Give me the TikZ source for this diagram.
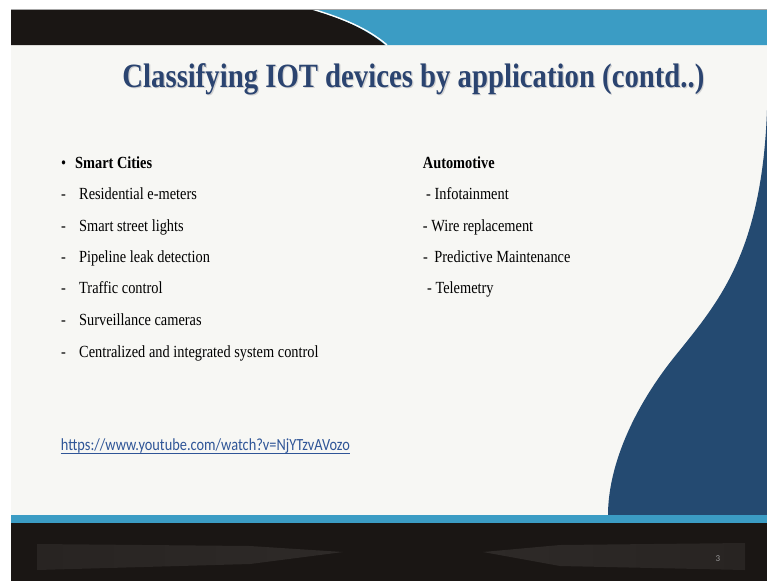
\documentclass[tikz,border=0pt]{standalone}
\usepackage{fontspec}
\setmainfont{Liberation Serif}
\newfontfamily\urlfont{Carlito}
\definecolor{barblack}{HTML}{1A1614}
\definecolor{barblue}{HTML}{3B9CC4}
\definecolor{wave}{HTML}{244A71}
\definecolor{slidebg}{HTML}{F7F7F4}
\definecolor{titleblue}{HTML}{2B4470}
\definecolor{linkblue}{HTML}{2F5597}
\definecolor{stripe}{HTML}{2E2A28}
\tikzset{
  body/.style={anchor=base west, inner sep=0pt, font=\fontsize{17}{20}\selectfont, text=black},
  ttl/.style={anchor=base, inner sep=0pt, font=\fontsize{34}{40}\selectfont\bfseries},
}
\newcommand{\sq}[1]{\scalebox{0.845}[1]{#1}}
\begin{document}
\begin{tikzpicture}[x=1pt,y=-1pt]
\useasboundingbox (0,0) rectangle (767,581);
\fill[white] (0,0) rectangle (767,581);
% slide background
\fill[slidebg] (11,45) rectangle (767,515);
% top bar
\fill[barblue] (310,9) -- (767,9) -- (767,45) -- (385,45) -- cycle;
\fill[barblack] (11,9) -- (310,9) .. controls (340,18) and (365,28) .. (385,45) -- (11,45) -- cycle;
\draw[white, line width=1.4pt] (312,9) .. controls (342,18) and (367,28) .. (387,45);
\draw[gray!70, line width=0.8pt] (11,9.3) -- (767,9.3);
% right wave
\fill[wave] (767,100) -- (767,110) .. controls (762,250) and (720,300) .. (680,350)
  .. controls (630,410) and (608,470) .. (608,515) -- (767,515) -- cycle;
% bottom bars
\fill[barblue] (11,515) rectangle (767,523);
\fill[barblack] (11,523) rectangle (767,581);
\shade[left color=stripe!70!barblack, right color=stripe] (37,544) -- (250,546) -- (343,552) -- (250,564) -- (37,570) -- cycle;
\shade[left color=stripe, right color=stripe!70!barblack] (483,552) -- (560,545) -- (745,543) -- (745,570) -- (560,566) -- cycle;
\node[anchor=base, inner sep=0pt, text=gray!80, font=\urlfont\fontsize{9}{10}\selectfont] (pnum) at (718,561) {3};
% title
\node[ttl, text=gray!35] (titleshadow) at (414.6,88.2) {\sq{Classifying IOT devices by application (contd..)}};
\node[ttl, text=titleblue] (title) at (413.4,87) {\sq{Classifying IOT devices by application (contd..)}};
% left column
\node[body] (b0) at (61,168) {\sq{\textbullet}};
\node[body] (sc) at (75,168) {\sq{\bfseries Smart Cities}};
\node[body] (d1) at (61,199.5) {\sq{-}};
\node[body] (l1) at (79,199.5) {\sq{Residential e-meters}};
\node[body] (d2) at (61,231) {\sq{-}};
\node[body] (l2) at (79,231) {\sq{Smart street lights}};
\node[body] (d3) at (61,262) {\sq{-}};
\node[body] (l3) at (79,262) {\sq{Pipeline leak detection}};
\node[body] (d4) at (61,293.5) {\sq{-}};
\node[body] (l4) at (79,293.5) {\sq{Traffic control}};
\node[body] (d5) at (61,325) {\sq{-}};
\node[body] (l5) at (79,325) {\sq{Surveillance cameras}};
\node[body] (d6) at (61,357) {\sq{-}};
\node[body] (l6) at (79,357) {\sq{Centralized and integrated system control}};
% right column
\node[body] (au) at (422.7,168) {\sq{\bfseries Automotive}};
\node[body] (r1) at (426,199.5) {\sq{- Infotainment}};
\node[body] (r2) at (422.7,231) {\sq{- Wire replacement}};
\node[body] (r3) at (423,262) {\sq{-\hspace{0.45em}Predictive Maintenance}};
\node[body] (r4) at (427,293.5) {\sq{- Telemetry}};
% link
\node[anchor=base west, inner sep=0pt, text=linkblue, font=\urlfont\fontsize{17}{20}\selectfont] (url) at (60.7,450) {\sq{https://www.youtube.com/watch?v=NjYTzvAVozo}};
\draw[linkblue, line width=0.8pt] ([yshift=-3.5pt]url.base west) -- ([yshift=-3.5pt]url.base east);
\end{tikzpicture}
\end{document}
